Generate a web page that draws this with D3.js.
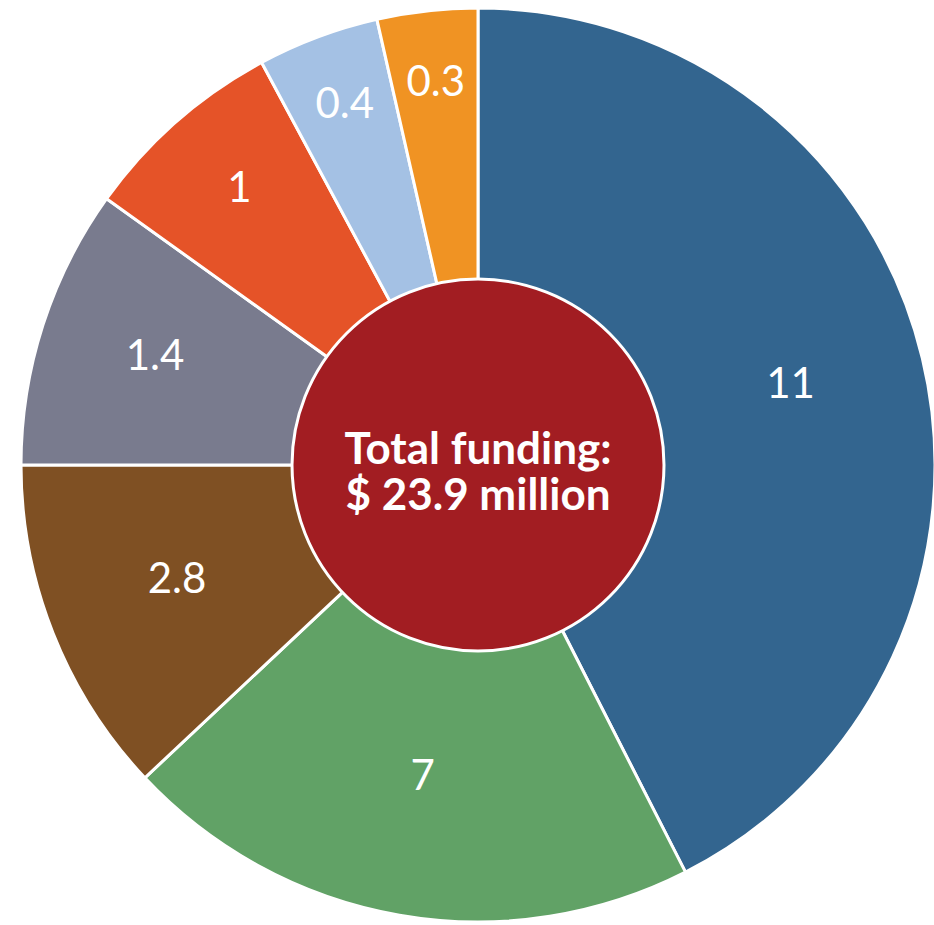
<!DOCTYPE html>
<html>
<head>
<meta charset="utf-8">
<script src="https://cdn.jsdelivr.net/npm/d3@7"></script>
<style>
  body { margin: 0; background: #fff; }
  svg { display: block; font-family: Lato, "Open Sans", sans-serif; }
</style>
</head>
<body>
<div id="chart"></div>
<script>
// Funding (millions) as labelled on each slice
const funding = [11, 7, 2.8, 1.4, 1, 0.4, 0.3];
// Share of the circle each slice takes in the picture (percent)
const sliceShare = [42.5, 20.5, 12.0, 9.9, 7.25, 4.3, 3.55];
const sliceColors = ["#33658F", "#61A266", "#7F5023", "#797B8E", "#E55328", "#A4C1E4", "#F09323"];
const centerLines = ["Total funding:", "$ 23.9 million"];

const config = {
  width: 934,
  height: 925,
  cx: 478,
  cy: 465,
  outerRadius: 457,
  innerRadius: 186,
};

const { width, height, cx, cy, outerRadius, innerRadius } = config;

const data = funding.map((v, i) => ({ value: v, share: sliceShare[i], color: sliceColors[i] }));

const svg = d3.select("#chart")
  .append("svg")
  .attr("width", width)
  .attr("height", height);

const g = svg.append("g").attr("transform", `translate(${cx},${cy})`);

const pie = d3.pie().sort(null).value((d) => d.share);
const arcs = pie(data);

const arc = d3.arc().innerRadius(0).outerRadius(outerRadius);

// Slices
g.selectAll("path.slice")
  .data(arcs)
  .join("path")
  .attr("class", "slice")
  .attr("d", arc)
  .attr("fill", (d) => d.data.color)
  .attr("stroke", "#fff")
  .attr("stroke-width", 3)
  .attr("stroke-linejoin", "round");

// Label radius: centre of the biggest circle that fits in the ring piece,
// kept a label's height away from the rim
function labelRadius(d) {
  const half = (d.endAngle - d.startAngle) / 2;
  const ringMid = (outerRadius + innerRadius) / 2;
  if (half >= Math.PI / 2) return ringMid;
  const edgeFit = (outerRadius - 14) / (1 + Math.sin(half));
  return Math.min(outerRadius - 77, Math.max(ringMid, edgeFit));
}

g.selectAll("text.label")
  .data(arcs)
  .join("text")
  .attr("class", "label")
  .attr("transform", (d) => {
    const r = labelRadius(d);
    const a = (d.startAngle + d.endAngle) / 2;
    return `translate(${r * Math.sin(a)},${-r * Math.cos(a)})`;
  })
  .attr("text-anchor", "middle")
  .attr("dy", "0.2em")
  .attr("fill", "#fff")
  .attr("font-size", "42px")
  .text((d) => d.data.value);

// Centre disc
g.append("circle")
  .attr("r", innerRadius)
  .attr("fill", "#A21D22")
  .attr("stroke", "#fff")
  .attr("stroke-width", 3);

g.append("text")
  .attr("text-anchor", "middle")
  .attr("fill", "#fff")
  .attr("font-weight", "bold")
  .attr("font-size", "44px")
  .selectAll("tspan")
  .data(centerLines)
  .join("tspan")
  .attr("x", 0)
  .attr("y", (d, i) => i * 46 - 1)
  .text((d) => d);
</script>
</body>
</html>
